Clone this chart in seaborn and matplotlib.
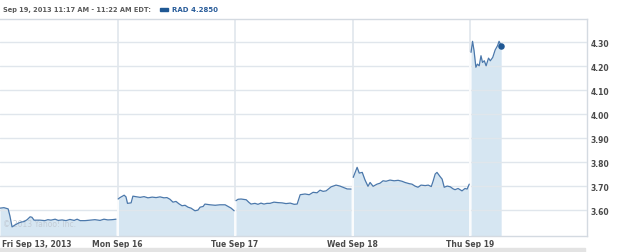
import numpy as np
import pandas as pd
import matplotlib
matplotlib.use("Agg")
import matplotlib.pyplot as plt
import matplotlib.transforms as mtransforms
from matplotlib.patches import Rectangle
import seaborn as sns

# ---- data (minutes after the 9:30 open, price) ----
day_labels = ["Fri Sep 13, 2013", "Mon Sep 16", "Tue Sep 17", "Wed Sep 18", "Thu Sep 19"]

fri_min = [0, 13, 27, 33, 40, 50, 60, 70, 80, 90, 100, 106, 113, 133, 149, 159, 169,
           183, 193, 206, 219, 232, 246, 256, 266, 282, 299, 315, 332, 345, 358, 372, 385]
fri_px = [3.608, 3.61, 3.605, 3.575, 3.53, 3.538, 3.545, 3.55, 3.552, 3.56, 3.572, 3.57,
          3.558, 3.558, 3.556, 3.56, 3.558, 3.562, 3.557, 3.559, 3.556, 3.561, 3.557, 3.562,
          3.556, 3.556, 3.558, 3.56, 3.557, 3.562, 3.559, 3.56, 3.562]

mon_min = [2, 8, 22, 28, 33, 45, 51, 65, 75, 88, 101, 115, 128, 141, 154, 164, 174, 184,
           194, 204, 214, 224, 234, 244, 257, 267, 274, 284, 290, 307, 324, 340, 357, 367,
           377, 387]
mon_px = [3.646, 3.652, 3.662, 3.655, 3.628, 3.63, 3.658, 3.655, 3.653, 3.656, 3.651,
          3.654, 3.652, 3.655, 3.651, 3.652, 3.645, 3.633, 3.636, 3.626, 3.618, 3.62,
          3.612, 3.608, 3.597, 3.60, 3.612, 3.615, 3.625, 3.622, 3.62, 3.622, 3.622,
          3.615, 3.608, 3.597]

tue_min = [3, 10, 20, 37, 46, 53, 66, 76, 86, 96, 106, 116, 129, 143, 156, 169, 183, 196,
           206, 216, 232, 246, 259, 272, 282, 292, 302, 312, 319, 335, 348, 358, 372, 385]
tue_px = [3.639, 3.645, 3.646, 3.643, 3.632, 3.625, 3.628, 3.624, 3.629, 3.625, 3.628,
          3.628, 3.633, 3.631, 3.63, 3.627, 3.629, 3.624, 3.625, 3.664, 3.667, 3.664,
          3.674, 3.672, 3.683, 3.678, 3.68, 3.69, 3.697, 3.704, 3.70, 3.695, 3.688, 3.6875]

wed_min = [2, 15, 22, 32, 41, 51, 58, 68, 81, 91, 101, 111, 124, 138, 151, 164, 174, 188,
           197, 207, 217, 227, 241, 251, 261, 267, 274, 280, 290, 297, 304, 314, 324, 334,
           340, 350, 363, 373, 380, 387]
wed_px = [3.736, 3.778, 3.754, 3.757, 3.726, 3.699, 3.715, 3.699, 3.708, 3.712, 3.722,
          3.72, 3.725, 3.722, 3.724, 3.72, 3.715, 3.71, 3.708, 3.70, 3.695, 3.704, 3.702,
          3.704, 3.698, 3.72, 3.75, 3.757, 3.74, 3.729, 3.695, 3.70, 3.697, 3.688, 3.685,
          3.69, 3.68, 3.69, 3.6875, 3.708]

thu_min = [3, 8, 13, 19, 24, 30, 36, 41, 47, 53, 61, 67, 75, 83, 91, 96, 103]
thu_px = [4.257, 4.303, 4.264, 4.195, 4.208, 4.201, 4.243, 4.215, 4.222, 4.201, 4.233,
          4.222, 4.236, 4.267, 4.285, 4.303, 4.285]

last_price = 4.2850
y_ticks = [3.60, 3.70, 3.80, 3.90, 4.00, 4.10, 4.20, 4.30]
session_minutes = 390

minutes = [fri_min, mon_min, tue_min, wed_min, thu_min]
prices = [fri_px, mon_px, tue_px, wed_px, thu_px]

rows = []
for d, (mm, pp) in enumerate(zip(minutes, prices)):
    for m, p in zip(mm, pp):
        rows.append({"day": d, "x": d + m / session_minutes, "price": p})
df = pd.DataFrame(rows)

# ---- style ----
sns.set_theme(style="white")
plt.rcParams["font.family"] = ["DejaVu Sans"]

LINE = "#4b78ab"
FILL = "#d6e6f2"
GRID = "#e0e6ec"
TXT = "#4a4a4a"

fig = plt.figure(figsize=(6.25, 2.53), dpi=100)
ax = fig.add_axes([0, 16 / 253, 586.5 / 625, (237 - 20) / 253])

ymin, ymax = 3.492, 4.396
ax.set_ylim(ymin, ymax)
ax.set_xlim(0, 4.99)

# vertical day separators (under the fill)
for d in range(1, 5):
    ax.axvline(d, color=GRID, lw=1.2, zorder=1)

# fills per day
for d in range(5):
    sub = df[df.day == d]
    ax.fill_between(sub.x, sub.price, ymin, color=FILL, lw=0, zorder=2)

# horizontal grid over fill
for t in y_ticks:
    ax.axhline(t, color=GRID, lw=1.0, zorder=3)

# white separators inside the fills
for d in range(1, 5):
    top = df[df.day == d].price.iloc[0]
    ax.vlines(d, ymin, top, color="white", lw=1.2, zorder=3)

sns.lineplot(data=df, x="x", y="price", units="day", estimator=None,
             color=LINE, lw=0.9, ax=ax, zorder=4, legend=False)

last = df.iloc[-1]
ax.scatter([last.x], [last.price], s=22, color="#1f5894", zorder=5, lw=0)

# axes decoration
ax.yaxis.tick_right()
ax.set_yticks(y_ticks)
ax.set_yticklabels([f"{t:.2f}" for t in y_ticks], fontsize=5.5, fontweight="bold", color=TXT)
ax.set_xticks(range(5))
ax.set_xticklabels(day_labels, fontsize=5.5, fontweight="bold", color=TXT)
ax.tick_params(axis="both", length=0)
ax.tick_params(axis="y", pad=3)
ax.tick_params(axis="x", pad=2)
lbls = ax.get_xticklabels()
lbls[0].set_ha("left")
lbls[0].set_transform(lbls[0].get_transform() +
                      mtransforms.ScaledTranslation(2 / 100, 0, fig.dpi_scale_trans))
ax.set_xlabel("")
ax.set_ylabel("")

ax.spines["left"].set_visible(False)
for s in ["top", "right", "bottom"]:
    ax.spines[s].set_color("#d4dae1")
    ax.spines[s].set_linewidth(1.0)

# watermark
ax.text(0.005, 0.035, "© 2013 Yahoo! Inc.", transform=ax.transAxes, fontsize=5.5,
        color="#c3ccd6", ha="left", va="bottom", zorder=3)

# title line
fig.text(3 / 625, 1 - 10 / 253, "Sep 19, 2013 11:17 AM - 11:22 AM EDT:", fontsize=4.8,
         fontweight="bold", color="#5a5a5a", ha="left", va="center")
fig.patches.append(Rectangle((160 / 625, 1 - 11.5 / 253), 8 / 625, 3 / 253,
                             transform=fig.transFigure, color="#1f5894"))
fig.text(172 / 625, 1 - 10 / 253, f"RAD {last_price:.4f}", fontsize=5.0,
         fontweight="bold", color="#2a5d9a", ha="left", va="center")

# bottom gray bar
fig.patches.append(Rectangle((0, 0), 585 / 625, 4 / 253, transform=fig.transFigure,
                             color="#e3e3e3"))

fig.savefig("out.png", dpi=100)
